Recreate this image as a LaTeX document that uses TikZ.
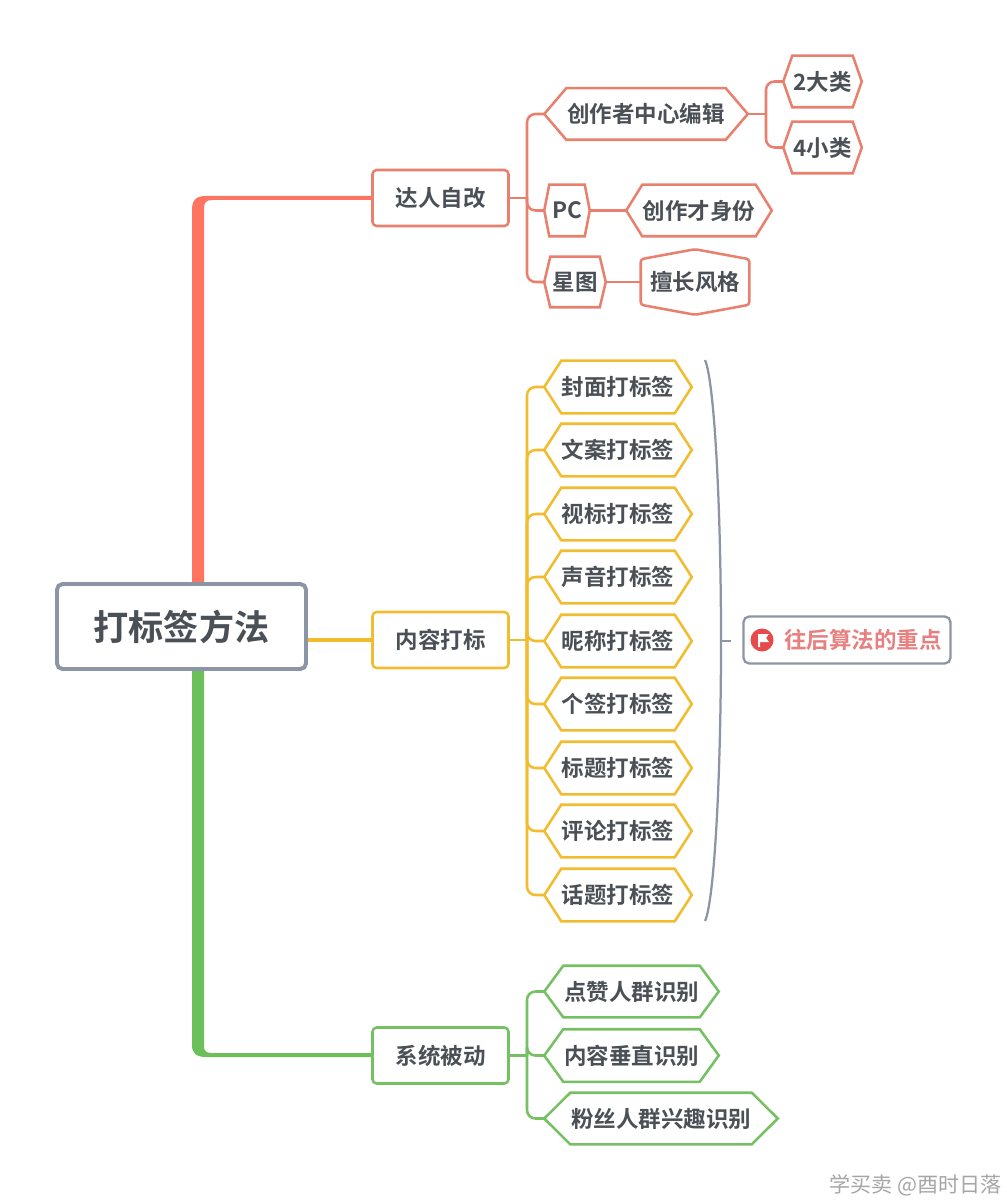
\documentclass[tikz,border=0pt]{standalone}
\usepackage{fontspec}
\setmainfont{Noto Sans CJK SC}[BoldFont={Noto Sans CJK SC Bold}]
\definecolor{inkc}{HTML}{4A5056}
\definecolor{redc}{HTML}{E9806E}
\definecolor{redt}{HTML}{FD7560}
\definecolor{yelc}{HTML}{F2BC2F}
\definecolor{grnc}{HTML}{75C063}
\definecolor{grnt}{HTML}{6CC05A}
\definecolor{rootc}{HTML}{8C95A6}
\definecolor{notec}{HTML}{E78080}
\definecolor{flagc}{HTML}{E64A4A}
\def\pxu{0.025cm}
\def\hexcut{10}
\makeatletter
\pgfdeclareshape{hexbox}{
  \inheritsavedanchors[from=rectangle]
  \inheritanchorborder[from=rectangle]
  \inheritanchor[from=rectangle]{center}
  \inheritanchor[from=rectangle]{west}
  \inheritanchor[from=rectangle]{east}
  \inheritanchor[from=rectangle]{north}
  \inheritanchor[from=rectangle]{south}
  \backgroundpath{
    \southwest \pgf@xa=\pgf@x \pgf@ya=\pgf@y
    \northeast \pgf@xb=\pgf@x \pgf@yb=\pgf@y
    \pgfmathsetlength{\pgf@xc}{\hexcut*\pxu}
    \pgf@yc=.5\pgf@ya \advance\pgf@yc by .5\pgf@yb
    \pgfpathmoveto{\pgfqpoint{\pgf@xa}{\pgf@yc}}
    \pgfpathlineto{\pgfpoint{\pgf@xa+\pgf@xc}{\pgf@yb}}
    \pgfpathlineto{\pgfpoint{\pgf@xb-\pgf@xc}{\pgf@yb}}
    \pgfpathlineto{\pgfqpoint{\pgf@xb}{\pgf@yc}}
    \pgfpathlineto{\pgfpoint{\pgf@xb-\pgf@xc}{\pgf@ya}}
    \pgfpathlineto{\pgfpoint{\pgf@xa+\pgf@xc}{\pgf@ya}}
    \pgfpathclose
  }
}
\pgfdeclareshape{peakbox}{
  \inheritsavedanchors[from=rectangle]
  \inheritanchorborder[from=rectangle]
  \inheritanchor[from=rectangle]{center}
  \inheritanchor[from=rectangle]{west}
  \inheritanchor[from=rectangle]{east}
  \backgroundpath{
    \southwest \pgf@xa=\pgf@x \pgf@ya=\pgf@y
    \northeast \pgf@xb=\pgf@x \pgf@yb=\pgf@y
    \pgfmathsetlength{\pgf@yc}{\hexcut*\pxu}
    \pgf@xc=.5\pgf@xa \advance\pgf@xc by .5\pgf@xb
    \pgfpathmoveto{\pgfqpoint{\pgf@xc}{\pgf@yb}}
    \pgfpathlineto{\pgfpoint{\pgf@xb}{\pgf@yb-\pgf@yc}}
    \pgfpathlineto{\pgfpoint{\pgf@xb}{\pgf@ya+\pgf@yc}}
    \pgfpathlineto{\pgfqpoint{\pgf@xc}{\pgf@ya}}
    \pgfpathlineto{\pgfpoint{\pgf@xa}{\pgf@ya+\pgf@yc}}
    \pgfpathlineto{\pgfpoint{\pgf@xa}{\pgf@yb-\pgf@yc}}
    \pgfpathclose
  }
}
\makeatother
\tikzset{
  base/.style={text=inkc, font=\bfseries\fontsize{16}{20}\selectfont, inner sep=0pt, line width=1.8pt, fill=white},
  hexnode/.style n args={4}{base, hexbox, draw=#1, minimum width=#2*\pxu, minimum height=#3*\pxu, /utils/exec={\def\hexcut{#4}}},
  topic/.style={base, rectangle, rounded corners=3pt, draw=#1, minimum width=136*\pxu, minimum height=56*\pxu},
  link/.style={line width=1.8pt, draw=#1},
  curve/.style={line width=1.8pt, draw=#1, rounded corners=6pt},
}
\begin{document}
\begin{tikzpicture}[x=\pxu, y=-\pxu]
  \useasboundingbox (0,0) rectangle (1006,1200);
  \fill[white] (0,0) rectangle (1006,1200);

  % trunks
  \fill[redt] (192,583) -- (192,210) .. controls (192,200) and (196,196) .. (206,196) -- (372,196) -- (372,200) -- (212,200) .. controls (206,200) and (204,203) .. (204,208) -- (204,583) -- cycle;
  \fill[grnt] (192,670) -- (192,1045) .. controls (192,1053) and (196,1057) .. (206,1057) -- (372,1057) -- (372,1053) -- (212,1053) .. controls (206,1053) and (204,1051) .. (204,1046) -- (204,670) -- cycle;

  % main nodes
  \node[base, rectangle, rounded corners=4pt, draw=rootc, line width=2.8pt, minimum width=249*\pxu, minimum height=85*\pxu, font=\bfseries\fontsize{25}{30}\selectfont] (root) at (181.5,626.5) {打标签方法};
  \node[topic=redc] (self) at (440.5,198) {达人自改};
  \node[topic=yelc] (content) at (440.5,640) {内容打标};
  \node[topic=grnc] (system) at (440.5,1055.5) {系统被动};
  \draw[yelc, line width=2.2pt] (root.east |- content) -- (content.west);

  \coordinate (spinered) at (527,198);
  \coordinate (spineyel) at (527,640);
  \coordinate (spinegrn) at (527,1055.5);
  \coordinate (spineedit) at (766,114);

  % red branch
  \node[hexnode={redc}{201}{49}{22}] (edit) at (646,114) {创作者中心编辑};
  \node[hexnode={redc}{76}{49}{9}] (big) at (822.5,81.5) {2大类};
  \node[hexnode={redc}{76}{49}{9}] (small) at (822.5,147.5) {4小类};
  \node[hexnode={redc}{43}{49}{5}] (pc) at (567,210.5) {PC};
  \node[hexnode={redc}{143}{49}{16}] (identity) at (699,210.5) {创作才身份};
  \node[hexnode={redc}{59}{48}{6}] (star) at (575,282) {星图};
  \node[base, peakbox, draw=redc, rounded corners=2pt, minimum width=106*\pxu, minimum height=63*\pxu, /utils/exec={\def\hexcut{10}}] (style) at (695,282) {擅长风格};
  \draw[link=redc] (self.east) -- (spinered);
  \foreach \leaf in {edit,pc,star}
    \draw[curve=redc] (spinered) |- (\leaf.west);
  \draw[link=redc] (edit.east) -- (spineedit);
  \foreach \leaf in {big,small}
    \draw[curve=redc] (spineedit) |- (\leaf.west);
  \draw[link=redc] (pc.east) -- (identity.west);
  \draw[link=redc] (star.east) -- (style.west);

  % yellow branch
  \foreach \name/\ypos/\label in {cover/387/封面,copy/450/文案,visual/514/视标,sound/577/声音,nick/641/昵称,sign/704/个签,title/768/标题,remark/831/评论,topic/895/话题} {
    \node[hexnode={yelc}{145}{50}{17}] (\name) at (618,\ypos) {\label 打标签};
    \draw[curve=yelc] (spineyel) |- (\name.west);
  }
  \draw[link=yelc] (content.east) -- (spineyel);

  % bracket and note
  \coordinate (bracetop) at (705,360);
  \coordinate (bracemid) at (721,641);
  \coordinate (bracebot) at (705,921);
  \coordinate (bracetip) at (731,641);
  \draw[rootc, line width=1.6pt] (bracetop) .. controls (714,380) and (721,500) .. (bracemid) .. controls (721,782) and (714,902) .. (bracebot);
  \draw[rootc, line width=1.6pt] (bracemid) -- (bracetip);
  \node[base, rectangle, rounded corners=4pt, draw=rootc, line width=1.6pt, minimum height=47*\pxu, text=notec, font=\bfseries\fontsize{16}{20}\selectfont, text width=189*\pxu, align=right, inner xsep=9*\pxu] (note) at (847,640) {往后算法的重点};
  \node[circle, fill=flagc, minimum size=23*\pxu, inner sep=0pt] (flag) at (762,640) {};
  \fill[white] (758,634) -- (769,634) -- (766,638) -- (769,642) -- (760,642) -- (760,647) -- (758,647) -- cycle;

  % green branch
  \node[hexnode={grnc}{172}{49}{19}] (likes) at (631.5,991.5) {点赞人群识别};
  \node[hexnode={grnc}{172}{50}{19}] (vertical) at (631.5,1055.5) {内容垂直识别};
  \node[hexnode={grnc}{231}{49}{26}] (fans) at (661,1118.5) {粉丝人群兴趣识别};
  \draw[link=grnc] (system.east) -- (spinegrn);
  \foreach \leaf in {likes,vertical,fans}
    \draw[curve=grnc] (spinegrn) |- (\leaf.west);

  \node[anchor=east, text=black!35, font=\fontsize{15}{17}\selectfont, inner sep=0pt] (mark) at (1002,1185) {学买卖 @酉时日落};
\end{tikzpicture}
\end{document}
